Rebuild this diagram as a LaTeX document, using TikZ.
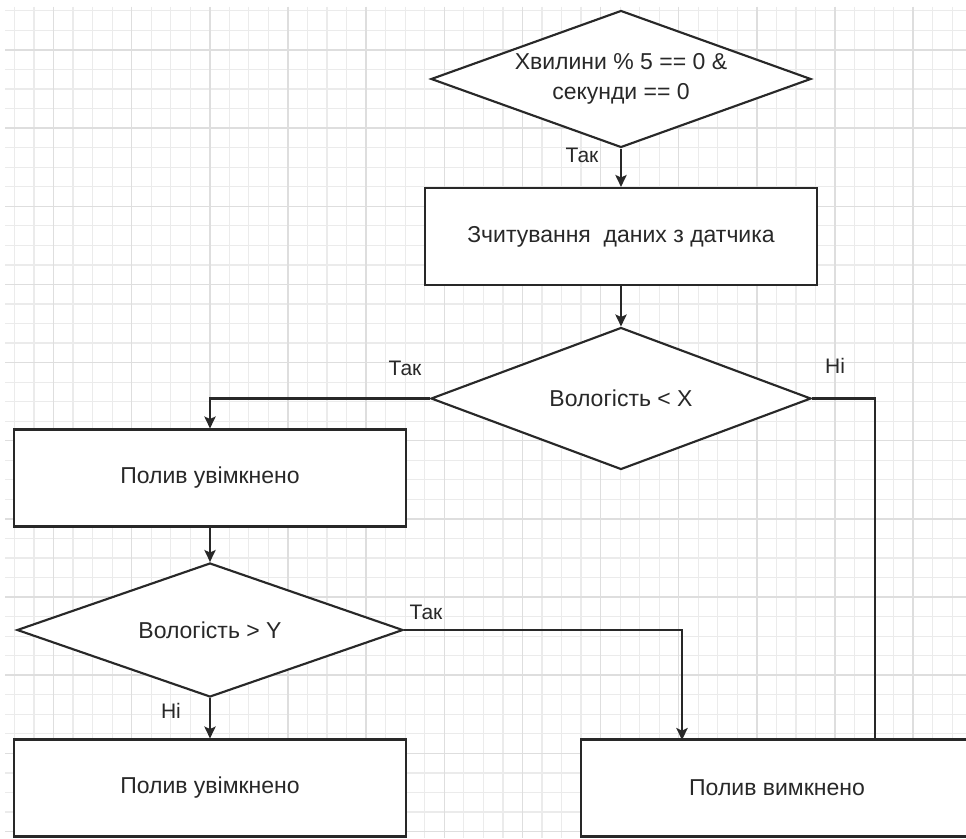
\documentclass[tikz,border=0pt]{standalone}
\usepackage{fontspec}
\setmainfont{Liberation Sans}
\usetikzlibrary{shapes.geometric,arrows.meta}
\definecolor{gridminor}{RGB}{235,235,235}
\definecolor{gridmajor}{RGB}{222,222,222}
\definecolor{ink}{RGB}{40,40,40}
\tikzset{
  procbox/.style={draw=ink,line width=1.6pt,fill=white,minimum width=294pt,minimum height=72.75pt,inner sep=0pt,text=ink,font=\fontsize{17.25}{22.5}\selectfont},
  decision/.style={diamond,draw=ink,line width=1.6pt,fill=white,aspect=2.8,inner sep=0pt,align=center,text=ink,font=\fontsize{17.25}{22.5}\selectfont},
  flow/.style={draw=ink,line width=1.6pt,-{Stealth[length=9pt,width=8.5pt,inset=2pt]}},
  branch/.style={inner sep=0.75pt,text=ink,font=\fontsize{15.75}{18}\selectfont}
}
\begin{document}
\begin{tikzpicture}[x=0.75pt,y=0.75pt,yscale=-1,xscale=1]
\useasboundingbox (0,0) rectangle (966,838);
\clip (0,0) rectangle (966,838);
\fill[white] (0,0) rectangle (966,838);
% grid
\foreach \gx in {0,...,49}
  \draw[gridminor,line width=0.9pt] ({14.4+19.54*\gx},7) -- ({14.4+19.54*\gx},838);
\foreach \gy in {0,...,42}
  \draw[gridminor,line width=0.9pt] (5,{10.9+19.54*\gy}) -- (966,{10.9+19.54*\gy});
\foreach \gx in {0,...,11}
  \draw[gridmajor,line width=1.1pt] ({53.5+78.15*\gx},7) -- ({53.5+78.15*\gx},838);
\foreach \gy in {0,...,10}
  \draw[gridmajor,line width=1.1pt] (5,{50+78.15*\gy}) -- (966,{50+78.15*\gy});

% blocks
\draw (621,79) node (d1) [decision,minimum width=285pt,minimum height=102.75pt] {Хвилини \% 5 == 0 \&\\секунди == 0};
\draw (621,236.5) node (b1) [procbox] {Зчитування\ \ даних з датчика};
\draw (621,398.5) node (d2) [decision,minimum width=285pt,minimum height=106.5pt] {Вологість < X};
\draw (210,478) node (b2) [procbox] {Полив увімкнено};
\draw (210,630) node (d3) [decision,minimum width=289.5pt,minimum height=100.5pt] {Вологість > Y};
\draw (210,788) node (b3) [procbox] {Полив увімкнено};
\draw (777,788) node (b4) [procbox] {Полив вимкнено};

\coordinate (noend) at (875,740);
\coordinate (yesin) at (682,740);

% connectors
\draw[flow] (d1) -- (b1);
\draw[flow] (b1) -- (d2);
\draw[flow] (d2.west) -| (b2.north);
\draw[draw=ink,line width=1.6pt] (d2.east) -| (noend);
\draw[flow] (b2) -- (d3);
\draw[flow] (d3.east) -| (yesin);
\draw[flow] (d3) -- (b3);

% Text Node
\draw (582,155) node (yes1) [branch] {Так};
\draw (405,368) node (yes2) [branch] {Так};
\draw (835,366) node (no2) [branch] {Ні};
\draw (426,612) node (yes3) [branch] {Так};
\draw (171,711) node (no3) [branch] {Ні};
\end{tikzpicture}
\end{document}
